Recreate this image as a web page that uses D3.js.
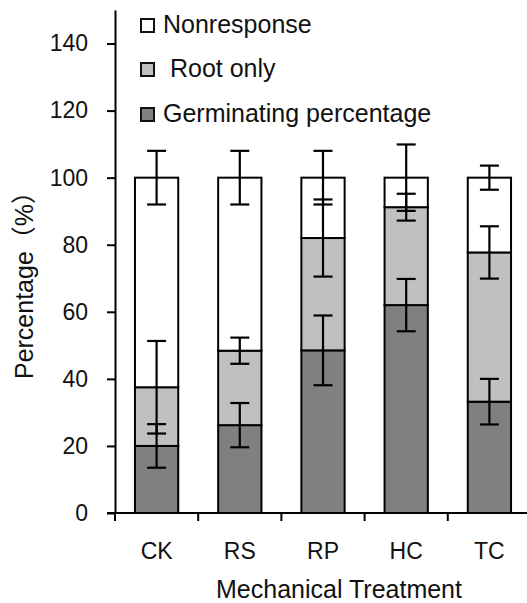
<!DOCTYPE html>
<html>
<head>
<meta charset="utf-8">
<script src="https://cdn.jsdelivr.net/npm/d3@7"></script>
<style>
  body { margin: 0; background: #fff; }
  svg { display: block; font-family: "Liberation Sans", Arial, "Noto Sans CJK SC", sans-serif; }
</style>
</head>
<body>
<div id="chart-area"></div>
<script>
// Data (segment heights, %)
const treatments = ["CK", "RS", "RP", "HC", "TC"];
const germinating = [20, 26.2, 48.5, 62, 33.2];
const rootOnly = [17.5, 22.2, 33.5, 29.2, 44.5];
const nonresponse = [62.5, 51.6, 18, 8.8, 22.3];
// error bar half-lengths
const germErr = [6.5, 6.6, 10.4, 7.8, 6.8];
const rootErr = [13.8, 3.9, 11.5, 4, 7.8];
const nonErr = [8, 8, 8, 9.9, 3.6];
const yTicks = [0, 20, 40, 60, 80, 100, 120, 140];

const seriesNames = ["Germinating percentage", " Root only", "Nonresponse"];
const seriesKeys = ["germ", "root", "non"];
const colors = { germ: "#808080", root: "#c0c0c0", non: "#ffffff" };

const width = 527, height = 603;
const margin = { left: 115, top: 10, bottom: 90 };

const svg = d3.select("#chart-area").append("svg")
    .attr("width", width)
    .attr("height", height);

const table = treatments.map((t, i) => ({
    name: t,
    germ: germinating[i], root: rootOnly[i], non: nonresponse[i],
    germErr: germErr[i], rootErr: rootErr[i], nonErr: nonErr[i]
}));

const stacked = d3.stack().keys(seriesKeys)(table);

// Scales
const x = d3.scaleBand().domain(treatments).range([margin.left, 531]).padding(0);
const y = d3.scaleLinear().domain([0, 150]).range([513, margin.top]);
const barW = x.bandwidth() * 0.52;
const capW = 19;

// Bars
stacked.forEach(layer => {
    svg.append("g").selectAll("rect")
        .data(layer)
        .join("rect")
        .attr("x", d => x(d.data.name) + x.bandwidth() / 2 - barW / 2)
        .attr("y", d => y(d[1]))
        .attr("width", barW)
        .attr("height", d => y(d[0]) - y(d[1]))
        .attr("fill", colors[layer.key])
        .attr("stroke", "#000")
        .attr("stroke-width", 2);
});

// Error bars
stacked.forEach(layer => {
    const g = svg.append("g").attr("stroke", "#000").attr("stroke-width", 2.2);
    layer.forEach(d => {
        const cx = x(d.data.name) + x.bandwidth() / 2;
        const e = d.data[layer.key + "Err"];
        const top = y(d[1] + e), bot = y(d[1] - e);
        g.append("line").attr("x1", cx).attr("x2", cx).attr("y1", top).attr("y2", bot);
        g.append("line").attr("x1", cx - capW / 2).attr("x2", cx + capW / 2).attr("y1", top).attr("y2", top);
        g.append("line").attr("x1", cx - capW / 2).attr("x2", cx + capW / 2).attr("y1", bot).attr("y2", bot);
    });
});

// Axes
const yAxis = svg.append("g")
    .attr("transform", "translate(" + margin.left + ",0)")
    .call(d3.axisLeft(y).tickValues(yTicks).tickSize(8).tickSizeOuter(0).tickPadding(19));

const xAxis = svg.append("g")
    .attr("transform", "translate(0,513)")
    .call(d3.axisBottom(x).tickSize(0).tickPadding(30));

// x ticks sit on band edges
xAxis.selectAll(".edge")
    .data(treatments)
    .join("line")
    .attr("class", "edge")
    .attr("x1", d => x(d)).attr("x2", d => x(d))
    .attr("y1", 0).attr("y2", 8);

[yAxis, xAxis].forEach(a => {
    a.selectAll("path, line").attr("stroke", "#000").attr("stroke-width", 2);
    a.selectAll("text").attr("font-size", 23).attr("fill", "#111").attr("font-family", null);
});
xAxis.select(".domain").attr("d", "M107,0H531");

// Axis titles
svg.append("text")
    .attr("x", 339).attr("y", 598)
    .attr("text-anchor", "middle")
    .attr("font-size", 25)
    .attr("fill", "#111")
    .text("Mechanical Treatment");

svg.append("text")
    .attr("transform", "translate(33,279) rotate(-90)")
    .attr("text-anchor", "middle")
    .attr("font-size", 25)
    .attr("fill", "#111")
    .text("Percentage（%）");

// Legend
const legendRows = [
    { key: "non", label: seriesNames[2], y: 33 },
    { key: "root", label: seriesNames[1], y: 77 },
    { key: "germ", label: seriesNames[0], y: 122 }
];
const legend = svg.append("g");
legendRows.forEach(r => {
    legend.append("rect")
        .attr("x", 141).attr("y", r.y - 14)
        .attr("width", 13).attr("height", 13)
        .attr("fill", colors[r.key])
        .attr("stroke", "#111")
        .attr("stroke-width", 2);
    legend.append("text")
        .attr("x", 163).attr("y", r.y)
        .attr("font-size", 25)
        .attr("fill", "#111")
        .style("white-space", "pre")
        .text(r.label);
});
</script>
</body>
</html>
